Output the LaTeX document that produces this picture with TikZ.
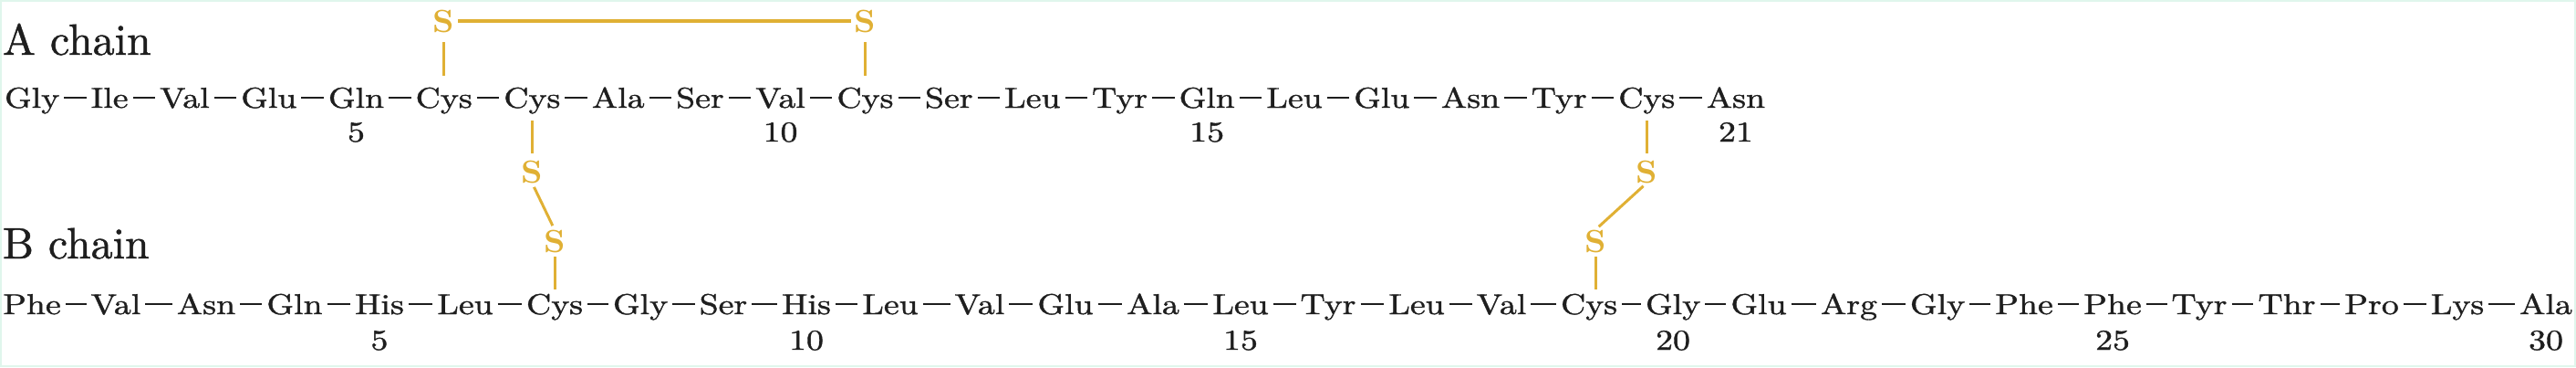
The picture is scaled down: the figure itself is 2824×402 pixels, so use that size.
\documentclass[tikz,border=0pt]{standalone}
\usepackage{fontspec}
\usetikzlibrary{calc}
\newfontfamily\resfont{lmroman10-regular.otf}[FakeStretch=1.2,FakeBold=1.2]
\newfontfamily\headfont{lmroman10-regular.otf}[FakeBold=1.0]
\newfontfamily\sfontbold{lmroman10-bold.otf}[FakeStretch=1.05]
\definecolor{gold}{RGB}{224,176,52}
\definecolor{ink}{RGB}{30,30,30}
\definecolor{mint}{RGB}{224,246,236}
\begin{document}
\begin{tikzpicture}[x=1pt,y=-1pt,
  res/.style={inner sep=0pt, outer sep=0pt, text=ink, font=\resfont\fontsize{31.5}{36}\selectfont},
  chainhead/.style={inner sep=0pt, outer sep=0pt, text=ink, font=\headfont\fontsize{48}{56}\selectfont},
  sulf/.style={inner sep=0pt, outer sep=0pt, text=gold, font=\sfontbold\fontsize{35}{40}\selectfont},
  pep/.style={draw=ink, line width=2.6pt},
  ssbond/.style={draw=gold, line width=3pt},
  ssbridge/.style={draw=gold, line width=4.5pt}]
\useasboundingbox (0,0) rectangle (2824,402);
\draw[mint, line width=2pt] (1,1) rectangle (2823,401);

% headings
\node[chainhead, anchor=base west] (hA) at (3,60) {A chain};
\node[chainhead, anchor=base west] (hB) at (3,283) {B chain};

% A chain
\foreach \r [count=\i] in {Gly,Ile,Val,Glu,Gln,Cys,Cys,Ala,Ser,Val,Cys,Ser,Leu,Tyr,Gln,Leu,Glu,Asn,Tyr,Cys,Asn} {
  \ifnum\i=1
    \node[res, anchor=base west] (a1) at (5,118) {\r};
  \else
    \pgfmathtruncatemacro\j{\i-1}
    \node[res, anchor=base west] (a\i) at ([xshift=34.5pt]a\j.base east) {\r};
    \draw[pep] ([xshift=5pt,yshift=11pt]a\j.base east) -- ([xshift=-5pt,yshift=11pt]a\i.base west);
  \fi
}
% B chain
\foreach \x/\r [count=\i] in {35/Phe,127/Val,226/Asn,323/Gln,416/His,510/Leu,608/Cys,702/Gly,793/Ser,884/His,976/Leu,1074/Val,1168/Glu,1264/Ala,1360/Leu,1456/Tyr,1553/Leu,1646/Val,1742/Cys,1834/Gly,1928/Glu,2027/Arg,2124/Gly,2219/Phe,2316/Phe,2411/Tyr,2507/Thr,2600/Pro,2694/Lys,2791/Ala} {
  \node[res, anchor=base] (b\i) at (\x,344) {\r};
  \ifnum\i>1
    \pgfmathtruncatemacro\j{\i-1}
    \draw[pep] ([xshift=5pt,yshift=11pt]b\j.base east) -- ([xshift=-5pt,yshift=11pt]b\i.base west);
  \fi
}

% residue numbers
\foreach \k in {5,10,15,21}
  \node[res, anchor=base] (na\k) at ([yshift=-37pt]a\k.base) {\k};
\foreach \k in {5,10,15,20,25,30}
  \node[res, anchor=base] (nb\k) at ([yshift=-39pt]b\k.base) {\k};

% sulfur atoms
\coordinate (ySt) at (0,35);
\coordinate (ySa) at (0,200);
\coordinate (ySb) at (0,276);
\node[sulf, anchor=base] (sA6) at (a6.base |- ySt) {S};
\node[sulf, anchor=base] (sA11) at (a11.base |- ySt) {S};
\node[sulf, anchor=base] (sA7) at (a7.base |- ySa) {S};
\node[sulf, anchor=base] (sB7) at (b7.base |- ySb) {S};
\node[sulf, anchor=base] (sA20) at (a20.base |- ySa) {S};
\node[sulf, anchor=base] (sB19) at ([xshift=7pt]b19.base |- ySb) {S};

% intra-chain bridge A6-A11
\draw[ssbridge, shorten <=4pt, shorten >=4pt] (sA6.east) -- (sA11.west);
\draw[ssbond, shorten <=11pt, shorten >=13pt] (sA6.south) -- (a6.north);
\draw[ssbond, shorten <=11pt, shorten >=13pt] (sA11.south) -- (a11.north);

% inter-chain bridge A7-B7
\draw[ssbond, shorten <=8pt, shorten >=8pt] (a7.south) -- (sA7.north);
\draw[ssbond, shorten <=5pt, shorten >=5pt] (sA7.south) -- (sB7.north);
\draw[ssbond, shorten <=5pt, shorten >=5pt] (sB7.south) -- (b7.north);

% inter-chain bridge A20-B19
\draw[ssbond, shorten <=8pt, shorten >=8pt] (a20.south) -- (sA20.north);
\draw[ssbond, shorten <=5pt, shorten >=5pt] (sA20.south) -- (sB19.north);
\draw[ssbond, shorten <=5pt, shorten >=5pt] (sB19.south) -- (sB19.south |- b19.north);
\end{tikzpicture}
\end{document}
